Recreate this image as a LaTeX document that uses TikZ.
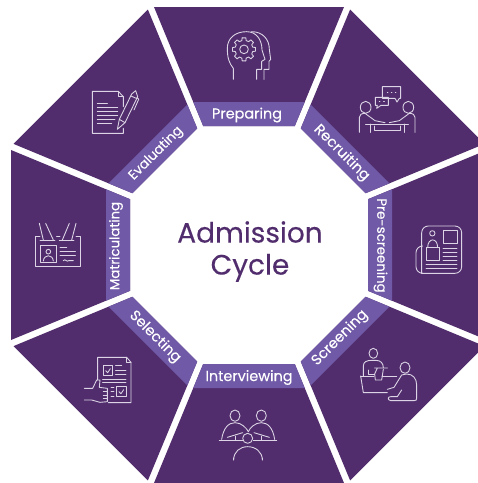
\documentclass[tikz,border=0pt]{standalone}
\usepackage{fontspec}
\setmainfont{Poppins}
\newfontfamily\labelfont{Poppins}[FakeBold=0.25]
\definecolor{sectorpurple}{HTML}{512D6D}
\definecolor{bandpurple}{HTML}{7059A6}
\definecolor{iconline}{HTML}{DDD5E6}
\tikzset{
  sector/.style={fill=sectorpurple,draw=none},
  band/.style={fill=bandpurple,draw=none},
  steplabel/.style={text=white,inner sep=0pt,font=\labelfont\fontsize{10.8pt}{12pt}\selectfont},
  smalllabel/.style={text=white,inner sep=0pt,font=\labelfont\fontsize{10pt}{12pt}\selectfont},
  iconpen/.style={draw=iconline,line width=.66pt,line cap=round,line join=round},
  zoomat/.style 2 args={shift={(#1,#2)},x=.25pt,y=-.25pt,iconpen},
}
\begin{document}
\begin{tikzpicture}[x=.75pt,y=-.75pt]
\useasboundingbox (0,0) rectangle (478,483);
\fill[white] (0,0) rectangle (478,483);
\clip (0,0) rectangle (478,483);
\foreach \r in {0,45,...,315}{
  \begin{scope}[shift={(249,245)},rotate=-\r]
    \path[sector] (-95,-238) -- (95,-238) -- (45.8,-119) -- (-45.8,-119) -- cycle;
    \path[band] (-55.7,-143) -- (55.7,-143) -- (45.8,-119) -- (-45.8,-119) -- cycle;
  \end{scope}
}
% labels
\node[steplabel] (preparing) at (247,115) {Preparing};
\node[steplabel,rotate=-45] (recruiting) at (341.5,153) {Recruiting};
\node[smalllabel,rotate=-90] (prescreening) at (380.5,245.5) {Pre-screening};
\node[steplabel,rotate=45] (screening) at (340,338) {Screening};
\node[steplabel] (interviewing) at (249,377.5) {Interviewing};
\node[steplabel,rotate=-45] (selecting) at (155,337) {Selecting};
\node[smalllabel,rotate=90] (matriculating) at (116,246) {Matriculating};
\node[smalllabel,rotate=45] (evaluating) at (156,153.5) {Evaluating};
\node[text=sectorpurple,align=center,inner sep=0pt,font=\labelfont\fontsize{21pt}{24pt}\selectfont] (title) at (250,251.5) {Admission\\Cycle};
% preparing icon
\begin{scope}[zoomat={140}{0}]
  \path[iconpen] (280,238) -- (280,205) .. controls (268,190) and (262,175) .. (262,145) .. controls (262,115) and (285,95) .. (320,95) .. controls (350,95) and (366,120) .. (366,150) -- (375,178) -- (365,184) -- (365,208) -- (350,208) -- (350,238);
  \path[iconpen] (335,95) .. controls (368,95) and (388,118) .. (388,148) -- (392,178) -- (387,184) -- (387,208) -- (372,208) -- (372,238);
  \begin{scope}[shift={(312,148)}]
    \path[iconpen] (0,0) circle (13);
    \foreach \a in {0,45,...,315}{
      \path[iconpen] (\a-9:35) -- (\a+9:35) -- (\a+14:27) -- (\a+31:27) -- (\a+36:35);
    }
  \end{scope}
\end{scope}
% recruiting icon
\begin{scope}[zoomat={300}{0}]
  \path[iconpen] (197,322) ellipse (16 and 18);
  \path[iconpen] (325,322) ellipse (16 and 18);
  \path[iconpen] (178,397) -- (178,352) .. controls (178,344) and (185,340) .. (195,340) -- (225,362) -- (255,368);
  \path[iconpen] (345,397) -- (345,352) .. controls (345,344) and (338,340) .. (328,340) -- (298,362) -- (268,368);
  \path[iconpen] (197,372) -- (325,372);
  \path[iconpen] (210,372) -- (210,397) (312,372) -- (312,397);
  \path[iconpen] (222,378) -- (222,392) -- (300,392) -- (300,378);
  \path[iconpen] (285,295) -- (247,295) -- (247,260) -- (302,260) -- (302,295) -- (298,295) -- (291,306) -- (285,295);
  \path[iconpen] (226,292) -- (265,292) -- (265,316) -- (243,316) -- (230,325) -- (232,316) -- (226,316) -- cycle;
  \path[iconpen] (262,278) -- (264,278) (274,278) -- (276,278) (286,278) -- (288,278) (238,304) -- (240,304) (251,304) -- (253,304);
\end{scope}
% pre-screening icon
\begin{scope}[zoomat={360}{150}]
  \path[iconpen,rounded corners=5] (185,370) -- (305,370) -- (305,228) -- (185,228) -- (185,370);
  \path[iconpen,rounded corners=5] (185,288) -- (168,288) -- (168,370) -- (185,370);
  \path[iconpen] (249,241) rectangle (291,281);
  \path[iconpen] (198,293) rectangle (238,331);
  \path[iconpen] (217,250) circle (8);
  \path[iconpen] (203,293) .. controls (203,262) and (233,262) .. (233,293);
  \foreach \y in {294,306,318,331}{\path[iconpen] (249,\y) -- (291,\y);}
  \foreach \y in {343,355}{\path[iconpen] (198,\y) -- (291,\y);}
\end{scope}
% screening icon
\begin{scope}[zoomat={300}{300}]
  \path[iconpen] (220,160) ellipse (13 and 15);
  \path[iconpen] (190,228) -- (190,198) .. controls (190,186) and (200,181) .. (215,181) -- (228,181) .. controls (242,181) and (250,190) .. (250,203);
  \path[iconpen] (205,210) -- (205,224) -- (224,224);
  \path[iconpen] (224,204) -- (262,204) (232,204) -- (224,222) -- (226,240) -- (245,240) -- (250,208);
  \path[iconpen] (182,228) -- (222,228) (246,230) -- (290,230);
  \path[iconpen] (182,228) -- (190,278) -- (262,278);
  \path[iconpen] (315,203) ellipse (15 and 17);
  \path[iconpen] (350,295) -- (350,255) .. controls (350,235) and (338,222) .. (320,222) -- (305,225) -- (282,262) -- (262,268);
  \path[iconpen] (350,295) .. controls (350,300) and (348,302) .. (342,302) -- (272,302) .. controls (262,300) and (262,290) .. (272,290) -- (292,290) -- (305,270);
\end{scope}
% interviewing icon
\begin{scope}[zoomat={150}{360}]
  \path[iconpen] (255,167) ellipse (15 and 17);
  \path[iconpen] (334,167) ellipse (15 and 17);
  \path[iconpen] (215,238) .. controls (220,205) and (235,188) .. (255,188) .. controls (275,188) and (290,205) .. (295,215);
  \path[iconpen] (374,238) .. controls (369,205) and (354,188) .. (334,188) .. controls (314,188) and (299,205) .. (295,215);
  \path[iconpen] (232,232) -- (278,218) (358,232) -- (312,218);
  \path[iconpen] (208,240) -- (278,240) (310,240) -- (380,240);
  \path[iconpen] (255,228) -- (255,240) (335,228) -- (335,240);
  \path[iconpen] (293,235) circle (15);
  \path[iconpen] (251,300) .. controls (251,275) and (270,260) .. (293,260) .. controls (316,260) and (337,275) .. (337,300);
  \path[iconpen] (251,294) -- (251,300) (337,294) -- (337,300);
\end{scope}
% selecting icon
\begin{scope}[zoomat={0}{300}]
  \path[iconpen] (293,240) -- (293,172) -- (380,172) -- (393,187) -- (393,308) -- (325,308);
  \path[iconpen] (380,172) -- (380,187) -- (393,187);
  \path[iconpen] (310,197) rectangle (338,225);
  \path[iconpen] (317,212) -- (323,218) -- (331,206);
  \path[iconpen] (347,197) -- (365,197) (347,210) -- (378,210) (347,224) -- (378,224) (308,237) -- (378,237) (308,247) -- (378,247);
  \path[iconpen] (350,260) rectangle (378,290);
  \path[iconpen] (357,275) -- (363,281) -- (371,269);
  \path[iconpen] (333,262) -- (342,262) (333,275) -- (342,275) (333,288) -- (342,288);
  \path[iconpen] (253,265) -- (278,265) -- (290,240) -- (300,240) -- (298,262) -- (322,265) -- (322,305) -- (300,307) -- (275,300) -- (253,300);
  \path[iconpen] (310,275) -- (322,275) (310,285) -- (322,285) (310,295) -- (322,295);
\end{scope}
% matriculating icon
\begin{scope}[zoomat={0}{150}]
  \path[iconpen] (120,260) -- (107,260) -- (107,349) -- (240,349) -- (240,260) -- (228,260) (170,260) -- (180,260);
  \path[iconpen] (120,270) -- (165,270) (178,270) -- (222,270);
  \path[iconpen] (118,220) -- (130,270) (137,220) -- (160,270) (208,220) -- (187,270) (228,220) -- (215,270);
  \path[iconpen] (120,287) rectangle (170,336);
  \path[iconpen] (145,305) circle (7);
  \path[iconpen] (130,333) .. controls (132,312) and (158,312) .. (160,333);
  \path[iconpen] (180,292) -- (200,292) (180,304) -- (226,304) (180,316) -- (226,316);
  \path[iconpen] (190,332) .. controls (196,324) and (200,338) .. (206,332) .. controls (210,328) and (214,336) .. (220,332);
\end{scope}
% evaluating icon
\begin{scope}[zoomat={0}{0}]
  \path[iconpen] (370,320) -- (370,290) -- (355,274) -- (277,274) -- (277,400) -- (370,400) -- (370,385);
  \path[iconpen] (355,274) -- (355,290) -- (370,290);
  \path[iconpen] (292,309) -- (322,309) (292,321) -- (353,321) (292,333) -- (353,333) (292,345) -- (353,345) (292,357) -- (345,357) (292,369) -- (335,369);
  \path[iconpen] (352,388) -- (358,358) -- (395,282) -- (407,272) -- (413,290) -- (375,368) -- cycle;
  \path[iconpen] (358,358) -- (375,368) (393,288) -- (411,296);
  \path[iconpen] (411,292) -- (416,298) -- (402,330);
\end{scope}
\end{tikzpicture}
\end{document}
